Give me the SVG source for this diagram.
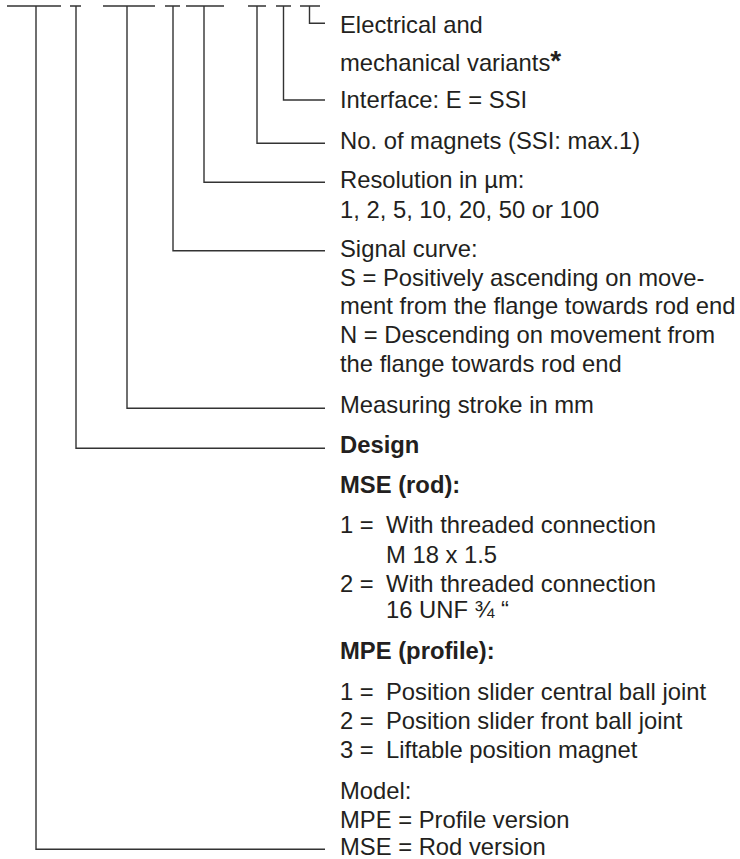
<svg xmlns="http://www.w3.org/2000/svg" width="740" height="859" viewBox="0 0 740 859">
<style>
  .ln { fill: none; stroke: #333333; stroke-width: 1.4; }
  text { font-family: "Liberation Sans", Arial, sans-serif; font-size: 23.8px; fill: #231f20; }
  .b { font-weight: bold; }
</style>
<rect width="740" height="859" fill="#ffffff"/>
<g id="connectors">
  <path class="ln" d="M7 6 H61 M36 6 V849.3 H325"/>
  <path class="ln" d="M70 6 H81 M76 6 V448.3 H325"/>
  <path class="ln" d="M103 6 H155 M127 6 V408.3 H325"/>
  <path class="ln" d="M165 6 H180 M173 6 V250.7 H325"/>
  <path class="ln" d="M186 6 H224 M204 6 V182.3 H325"/>
  <path class="ln" d="M248 6 H266 M257 6 V143.3 H325"/>
  <path class="ln" d="M276 6 H291 M283.5 6 V100 H325"/>
  <path class="ln" d="M300 6 H320 M309.5 6 V23.3 H325"/>
</g>
<g id="variants">
  <text x="340" y="33.3">Electrical and</text>
  <text x="340" y="71">mechanical variants<tspan class="b" font-size="28" dy="-1">*</tspan></text>
</g>
<g id="interface">
  <text x="340" y="107.7">Interface: E = SSI</text>
</g>
<g id="magnets">
  <text x="340" y="149.3">No. of magnets (SSI: max.1)</text>
</g>
<g id="resolution">
  <text x="340" y="188.3">Resolution in µm:</text>
  <text x="340" y="217.7">1, 2, 5, 10, 20, 50 or 100</text>
</g>
<g id="signal">
  <text x="340" y="256.7">Signal curve:</text>
  <text x="340" y="285.7">S = Positively ascending on move-</text>
  <text x="340" y="314.3">ment from the flange towards rod end</text>
  <text x="340" y="342.7">N = Descending on movement from</text>
  <text x="340" y="371.7">the flange towards rod end</text>
</g>
<g id="stroke">
  <text x="340" y="413.3">Measuring stroke in mm</text>
</g>
<g id="design">
  <text class="b" x="340" y="453.3">Design</text>
  <text class="b" x="340" y="493.3">MSE (rod):</text>
  <text x="340" y="533.3">1 =<tspan x="386">With threaded connection</tspan></text>
  <text x="386" y="562.7">M 18 x 1.5</text>
  <text x="340" y="591.7">2 =<tspan x="386">With threaded connection</tspan></text>
  <text x="386" y="618.3">16 UNF ¾ “</text>
  <text class="b" x="340" y="659.3">MPE (profile):</text>
  <text x="340" y="700">1 =<tspan x="386">Position slider central ball joint</tspan></text>
  <text x="340" y="729.3">2 =<tspan x="386">Position slider front ball joint</tspan></text>
  <text x="340" y="757.7">3 =<tspan x="386">Liftable position magnet</tspan></text>
</g>
<g id="model">
  <text x="340" y="799">Model:</text>
  <text x="340" y="827.7">MPE = Profile version</text>
  <text x="340" y="854.5">MSE = Rod version</text>
</g>
</svg>
